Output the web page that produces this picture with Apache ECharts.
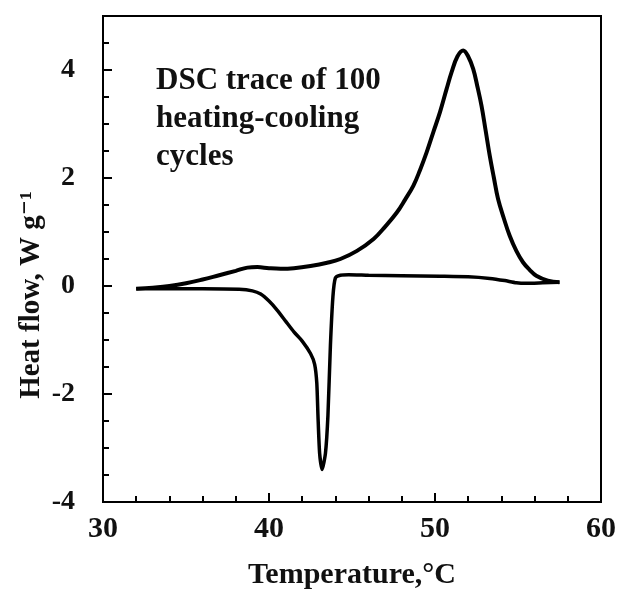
<!DOCTYPE html>
<html>
<head>
<meta charset="utf-8">
<style>
  html, body { margin: 0; padding: 0; background: #fff; }
  #chart { width: 627px; height: 589px; }
</style>
<script src="https://cdn.jsdelivr.net/npm/echarts@6/dist/echarts.min.js"></script>
</head>
<body>
<div id="chart"></div>
<script>
// heating scan (upper curve), temperature in °C and heat flow in W/g
var heatT = [32.0, 33.0, 34.0, 35.0, 36.0, 37.0, 38.0, 38.7, 39.3, 40.0, 40.7, 41.5, 42.5, 43.5, 44.3, 45.3, 46.3, 47.0, 47.7, 48.2, 48.7, 49.1, 49.5, 49.9, 50.3, 50.7, 51.0, 51.35, 51.7, 52.0, 52.3, 52.55, 52.8, 53.05, 53.3, 53.55, 53.8, 54.15, 54.5, 54.9, 55.3, 55.7, 56.1, 56.8, 57.5]
var heatFlow = [-0.05, -0.03, 0.0, 0.05, 0.12, 0.2, 0.28, 0.34, 0.35, 0.33, 0.32, 0.33, 0.37, 0.43, 0.5, 0.65, 0.87, 1.1, 1.36, 1.6, 1.86, 2.15, 2.48, 2.85, 3.22, 3.65, 3.96, 4.25, 4.36, 4.25, 4.02, 3.7, 3.34, 2.88, 2.41, 2.0, 1.61, 1.25, 0.93, 0.65, 0.44, 0.3, 0.19, 0.1, 0.07]

// cooling scan (lower curve), listed as the sample cools
var coolT = [57.5, 56.5, 55.5, 54.9, 54.2, 53.3, 52.0, 50.3, 48.0, 46.0, 44.8, 44.3, 44.0, 43.85, 43.7, 43.55, 43.4, 43.2, 43.05, 42.95, 42.88, 42.75, 42.5, 42.0, 41.5, 41.0, 40.5, 40.0, 39.5, 39.0, 38.2, 36.0, 34.0, 32.0]
var coolFlow = [0.07, 0.06, 0.05, 0.06, 0.1, 0.14, 0.17, 0.18, 0.19, 0.2, 0.21, 0.2, 0.15, -0.2, -1.1, -2.4, -3.1, -3.4, -3.1, -2.4, -1.8, -1.45, -1.25, -1.02, -0.85, -0.65, -0.45, -0.28, -0.15, -0.09, -0.06, -0.05, -0.05, -0.05]

var noteLines = ['DSC trace of 100', 'heating-cooling', 'cycles']

function pairs (xs, ys) {
  return xs.map(function (x, i) { return [x, ys[i]] })
}

var serif = '"Liberation Serif", "DejaVu Serif", serif'

var chart = echarts.init(document.getElementById('chart'))
var option = {
  animation: false,
  backgroundColor: '#fff',
  grid: {
    left: 103,
    right: 26,
    top: 16,
    bottom: 87,
    containLabel: false,
    outerBoundsMode: 'none',
    show: true,
    borderColor: '#000',
    borderWidth: 2
  },
  xAxis: {
    type: 'value',
    min: 30,
    max: 60,
    interval: 10,
    name: 'Temperature,°C',
    nameLocation: 'middle',
    nameGap: 58,
    nameTextStyle: { fontFamily: serif, fontWeight: 'bold', fontSize: 30, color: '#111' },
    axisLine: { onZero: false, lineStyle: { color: '#000', width: 2 } },
    axisTick: { inside: true, length: 9, lineStyle: { color: '#000', width: 2 } },
    minorTick: { show: true, splitNumber: 5, length: 6, lineStyle: { color: '#000', width: 2 } },
    splitLine: { show: false },
    axisLabel: { margin: 12, fontFamily: serif, fontWeight: 'bold', fontSize: 30, color: '#111' }
  },
  yAxis: {
    type: 'value',
    min: -4,
    max: 5,
    interval: 2,
    axisLine: { onZero: false, lineStyle: { color: '#000', width: 2 } },
    axisTick: { inside: true, length: 9, lineStyle: { color: '#000', width: 2 } },
    minorTick: { show: true, splitNumber: 4, length: 6, lineStyle: { color: '#000', width: 2 } },
    splitLine: { show: false },
    axisLabel: { margin: 28, showMaxLabel: false, fontFamily: serif, fontWeight: 'bold', fontSize: 28, color: '#111' }
  },
  graphic: [
    {
      type: 'text',
      left: 156,
      top: 62,
      style: {
        text: noteLines.join('\n'),
        font: 'bold 31px ' + serif,
        lineHeight: 38,
        fill: '#111'
      }
    },
    {
      // y axis title, sits a bit below the plot middle like the original
      type: 'text',
      x: 32,
      y: 295,
      rotation: Math.PI / 2,
      style: {
        text: 'Heat flow, W g⁻¹',
        font: 'bold 29px ' + serif,
        textAlign: 'center',
        textVerticalAlign: 'middle',
        fill: '#111'
      }
    }
  ],
  series: [
    {
      name: 'heating',
      type: 'line',
      data: pairs(heatT, heatFlow),
      smooth: 0.4,
      showSymbol: false,
      lineStyle: { color: '#000', width: 4 }
    },
    {
      name: 'cooling',
      type: 'line',
      data: pairs(coolT, coolFlow),
      smooth: 0.2,
      showSymbol: false,
      lineStyle: { color: '#000', width: 3.5 }
    }
  ]
}
chart.setOption(option)
</script>
</body>
</html>
